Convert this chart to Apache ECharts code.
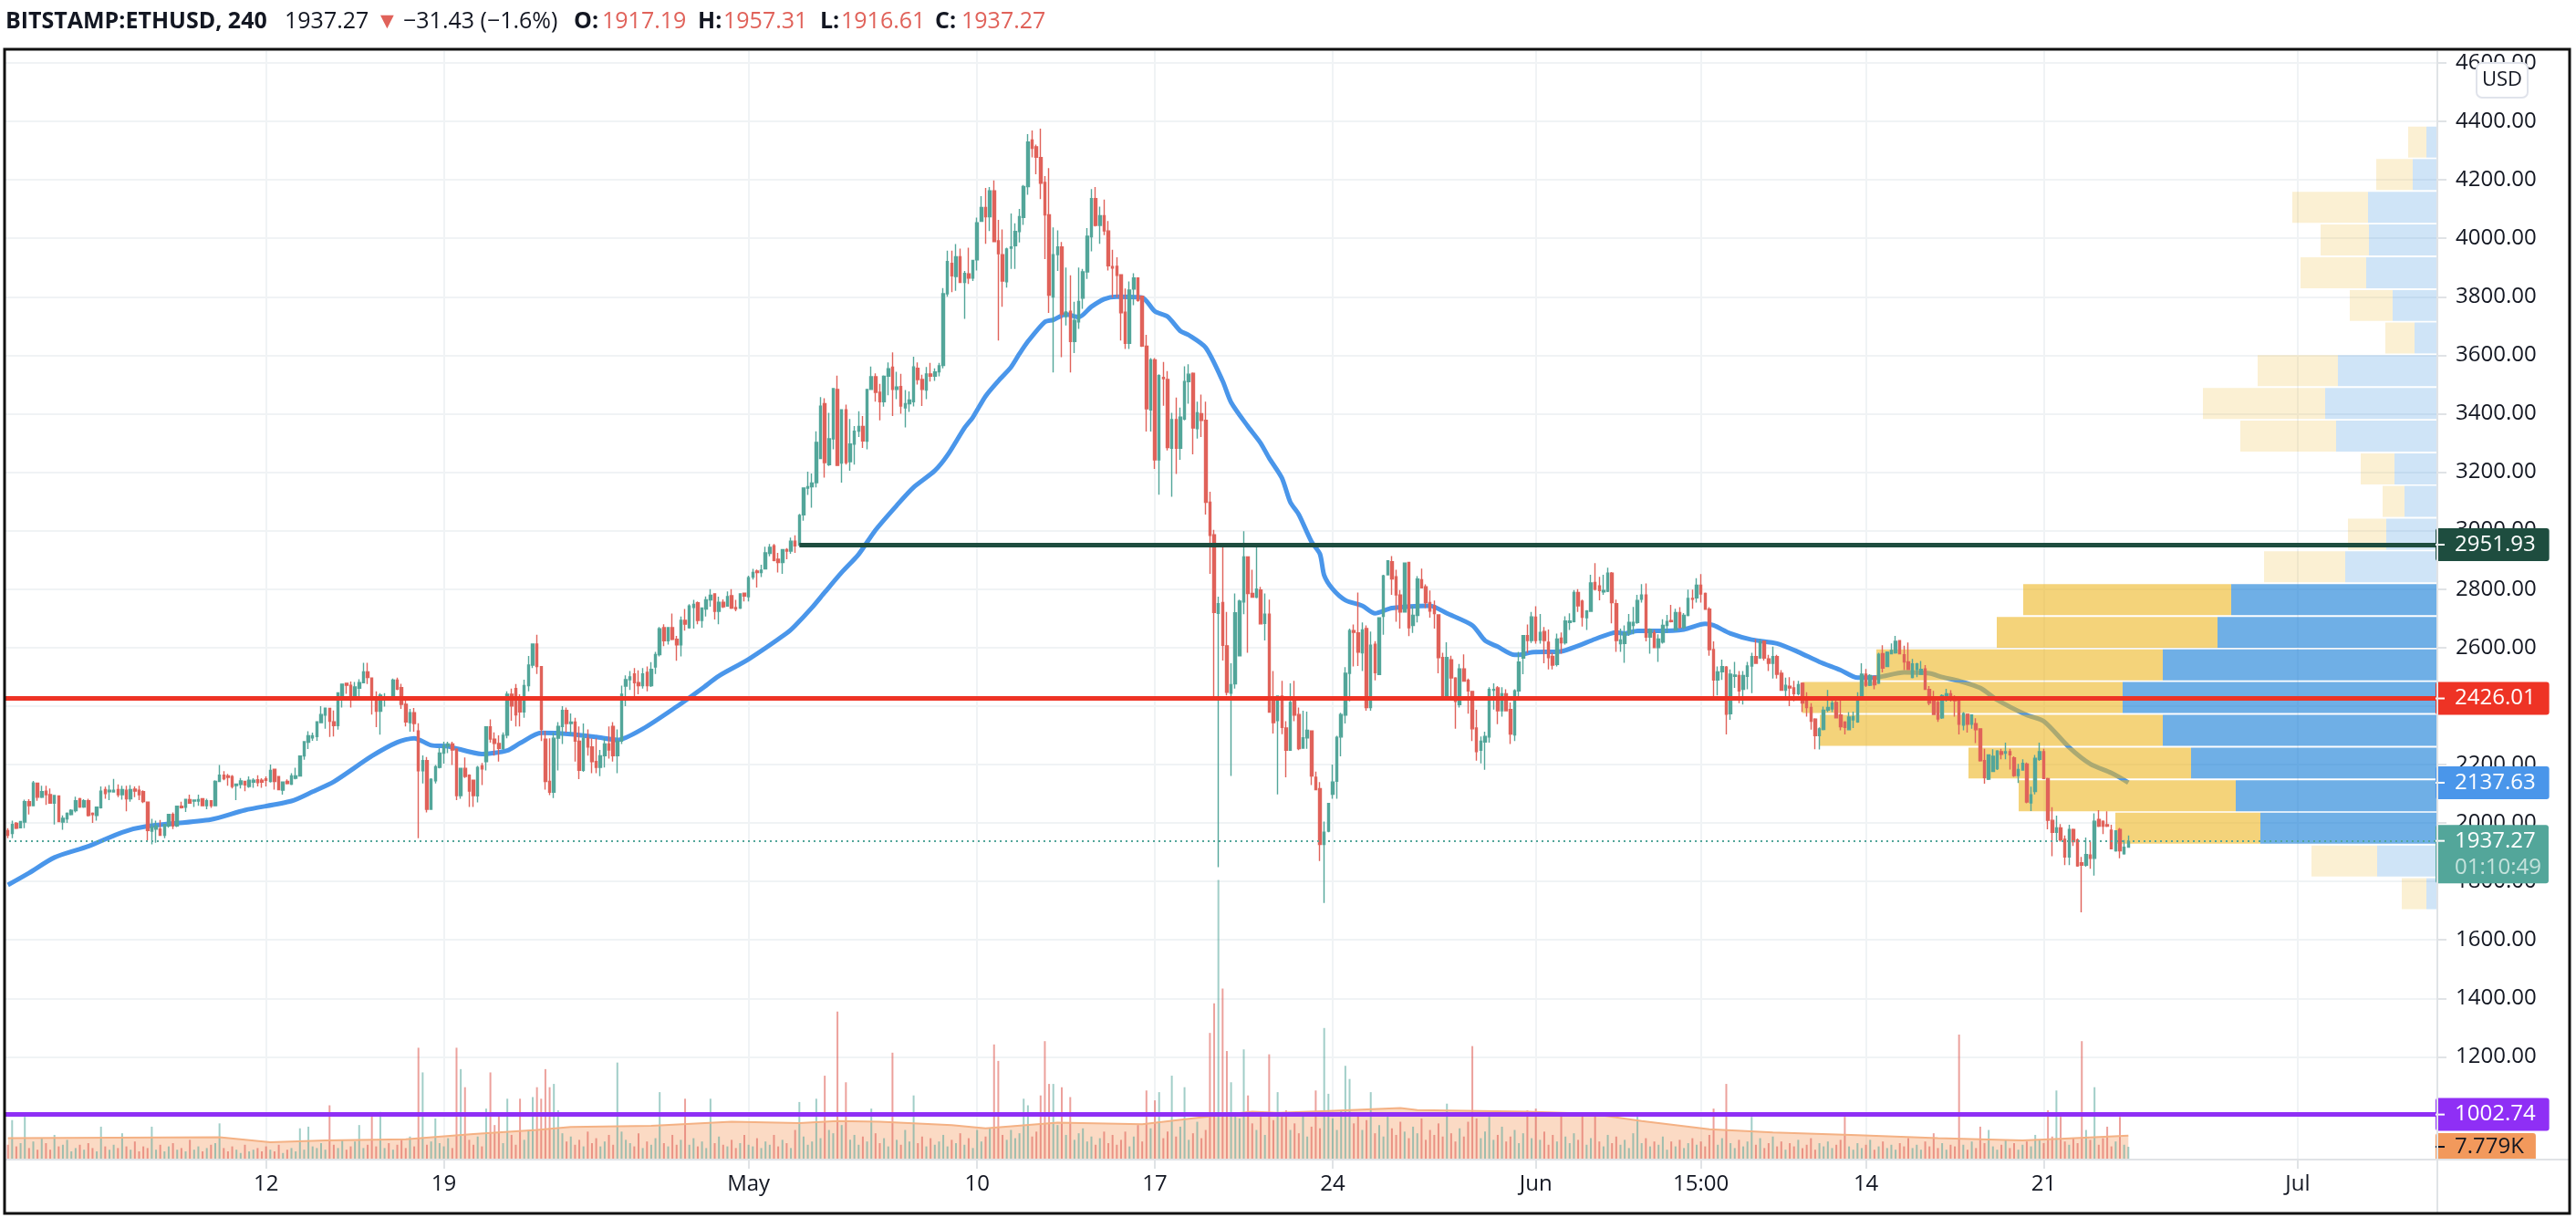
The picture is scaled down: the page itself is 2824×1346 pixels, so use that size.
<!DOCTYPE html>
<html>
<head>
<meta charset="utf-8">
<title>BITSTAMP:ETHUSD, 240</title>
<script src="https://cdn.jsdelivr.net/npm/echarts@6/dist/echarts.min.js"></script>
<style>
html, body { margin: 0; padding: 0; background: #fff; }
#chart { width: 2824px; height: 1346px; }
</style>
</head>
<body>
<div id="chart"></div>
<script>
// [open, close, low, high], 4h candles
var candles = [
[1974,1958,1948,1982],[1964,1995,1948,2008],[1999,1982,1979,2003],[1984,2005,1982,2007],[2003,2073,1982,2080],
[2073,2059,2029,2081],[2059,2137,2059,2144],[2136,2088,2076,2138],[2088,2107,2085,2127],[2109,2097,2062,2127],
[2097,2068,2066,2118],[2068,2094,1995,2096],[2092,2005,2003,2093],[2003,2016,1977,2026],[2014,2033,2000,2036],
[2029,2043,2026,2047],[2042,2076,2036,2090],[2083,2055,2052,2086],[2055,2076,2052,2081],[2076,2026,2022,2083],
[2033,2029,2000,2036],[2026,2054,2008,2055],[2052,2109,2049,2125],[2114,2101,2083,2124],[2107,2112,2078,2130],
[2106,2112,2104,2151],[2114,2097,2088,2132],[2097,2114,2080,2127],[2112,2083,2040,2127],[2083,2114,2073,2130],
[2116,2109,2088,2125],[2112,2097,2078,2127],[2107,2073,2068,2112],[2071,1974,1941,2073],[1972,1986,1927,2014],
[1979,1990,1932,2008],[1979,1958,1956,2010],[1958,1995,1948,1997],[1990,2029,1984,2031],[2029,1990,1979,2036],
[1990,2057,1986,2059],[2057,2052,2049,2073],[2054,2081,2038,2083],[2080,2068,2066,2097],[2075,2078,2055,2080],
[2075,2080,2059,2097],[2083,2059,2057,2085],[2059,2076,2047,2083],[2076,2059,2052,2078],[2059,2142,2057,2146],
[2142,2163,2140,2198],[2163,2151,2146,2177],[2161,2156,2127,2168],[2159,2125,2118,2164],[2128,2133,2078,2135],
[2132,2144,2118,2154],[2142,2130,2109,2144],[2125,2146,2120,2159],[2140,2146,2120,2153],[2148,2138,2125,2163],
[2146,2140,2120,2153],[2151,2146,2125,2159],[2142,2180,2138,2200],[2184,2142,2114,2186],[2159,2114,2112,2161],
[2112,2140,2097,2142],[2142,2135,2132,2149],[2133,2161,2130,2170],[2153,2161,2149,2189],[2161,2229,2161,2231],
[2229,2278,2216,2279],[2276,2298,2253,2314],[2291,2298,2281,2309],[2296,2346,2281,2348],[2343,2371,2341,2400],
[2369,2393,2322,2395],[2392,2348,2294,2394],[2346,2333,2296,2385],[2333,2445,2319,2447],[2421,2475,2395,2477],
[2478,2471,2442,2480],[2471,2421,2395,2484],[2423,2465,2421,2482],[2461,2480,2432,2492],[2480,2517,2478,2548],
[2517,2498,2475,2548],[2496,2432,2371,2498],[2430,2382,2328,2450],[2382,2437,2302,2444],[2424,2427,2398,2444],
[2432,2421,2419,2434],[2424,2489,2423,2494],[2489,2458,2454,2497],[2463,2406,2390,2476],[2406,2346,2330,2421],
[2343,2377,2312,2390],[2377,2340,2312,2393],[2315,2179,1948,2341],[2179,2213,2135,2231],[2213,2047,2036,2226],
[2047,2149,2047,2153],[2144,2192,2135,2198],[2190,2239,2187,2257],[2239,2265,2203,2278],[2263,2270,2239,2278],
[2270,2250,2198,2278],[2252,2094,2078,2255],[2094,2187,2083,2189],[2187,2159,2154,2224],[2163,2109,2055,2166],
[2146,2094,2055,2146],[2093,2190,2070,2195],[2195,2185,2130,2205],[2210,2329,2180,2330],[2329,2287,2275,2354],
[2287,2272,2230,2310],[2272,2255,2210,2300],[2255,2300,2250,2310],[2300,2440,2290,2450],[2440,2400,2350,2460],
[2460,2370,2330,2475],[2420,2380,2330,2440],[2380,2470,2360,2490],[2470,2540,2450,2571],[2540,2612,2530,2612],
[2612,2535,2510,2644],[2535,2320,2280,2537],[2287,2142,2114,2315],[2142,2105,2095,2290],[2105,2290,2085,2310],
[2290,2330,2180,2345],[2330,2385,2270,2400],[2385,2340,2310,2395],[2340,2345,2300,2375],[2345,2280,2210,2360],
[2280,2180,2150,2330],[2180,2290,2175,2340],[2290,2260,2230,2320],[2260,2210,2170,2290],[2210,2190,2170,2290],
[2190,2230,2160,2250],[2230,2270,2190,2290],[2270,2250,2220,2330],[2330,2230,2210,2345],[2230,2280,2170,2320],
[2280,2440,2270,2470],[2468,2490,2400,2505],[2490,2500,2455,2520],[2510,2480,2430,2530],[2480,2470,2440,2522],
[2470,2510,2460,2530],[2515,2470,2450,2535],[2470,2525,2465,2550],[2534,2576,2510,2585],[2576,2664,2570,2670],
[2668,2623,2605,2680],[2623,2668,2610,2668],[2668,2628,2625,2716],[2628,2609,2555,2640],[2609,2693,2570,2706],
[2693,2680,2658,2732],[2668,2742,2665,2748],[2737,2748,2665,2763],[2753,2693,2680,2758],[2693,2735,2668,2737],
[2732,2763,2706,2775],[2763,2779,2740,2800],[2784,2724,2696,2786],[2724,2755,2680,2774],[2755,2740,2735,2765],
[2742,2774,2740,2792],[2777,2735,2732,2800],[2737,2732,2724,2763],[2735,2784,2732,2786],[2786,2776,2758,2788],
[2774,2839,2758,2846],[2841,2857,2833,2869],[2862,2857,2805,2867],[2857,2865,2841,2883],[2869,2924,2869,2945],
[2922,2943,2912,2954],[2948,2898,2895,2954],[2902,2891,2857,2924],[2891,2935,2852,2935],[2935,2930,2902,2940],
[2930,2964,2921,2976],[2964,2948,2924,2984],[2950,3052,2950,3057],[3054,3146,3034,3148],[3145,3150,3122,3202],
[3150,3163,3078,3195],[3164,3302,3148,3340],[3247,3426,3247,3457],[3434,3233,3181,3453],[3226,3314,3221,3403],
[3314,3486,3278,3488],[3483,3223,3221,3530],[3231,3413,3164,3413],[3413,3233,3226,3431],[3236,3296,3205,3382],
[3296,3340,3226,3358],[3340,3356,3320,3408],[3356,3307,3283,3392],[3306,3483,3278,3483],[3483,3526,3481,3561],
[3526,3473,3441,3538],[3473,3441,3377,3502],[3441,3528,3424,3531],[3528,3554,3463,3575],[3559,3483,3392,3610],
[3483,3491,3450,3543],[3493,3426,3400,3536],[3420,3434,3353,3481],[3434,3447,3406,3476],[3441,3560,3425,3595],
[3555,3517,3500,3575],[3517,3483,3426,3533],[3481,3536,3450,3560],[3536,3528,3510,3574],[3528,3543,3512,3555],
[3543,3564,3528,3574],[3565,3810,3555,3830],[3810,3920,3800,3958],[3914,3872,3816,3958],[3869,3937,3820,3980],
[3937,3849,3847,3965],[3849,3880,3724,3888],[3878,3864,3844,3968],[3864,3924,3854,3926],[3926,4053,3890,4071],
[4058,4105,4056,4144],[4105,4074,3981,4172],[4074,4162,4025,4175],[4162,3989,3987,4198],[3991,3947,3650,4063],
[3944,3854,3766,4030],[3851,3963,3831,3968],[3966,3970,3895,4085],[3975,4023,3895,4051],[4023,4074,3986,4100],
[4071,4177,4046,4182],[4177,4329,4149,4356],[4336,4308,4277,4369],[4313,4277,4219,4320],[4276,4188,4134,4375],
[4191,4080,3929,4213],[4080,3805,3745,4240],[3799,3944,3541,4037],[3944,3970,3888,4027],[3970,3740,3593,3987],
[3732,3748,3702,3900],[3750,3647,3541,3873],[3647,3719,3607,3783],[3714,3784,3690,3900],[3795,3885,3759,3895],
[3885,4007,3861,4035],[4005,4136,3955,4168],[4136,4044,4040,4175],[4044,4077,3981,4108],[4077,4025,4011,4132],
[4025,3906,3890,4059],[3903,3898,3797,3961],[3904,3873,3797,3935],[3875,3745,3650,3875],[3747,3641,3621,3828],
[3641,3823,3621,3852],[3826,3864,3771,3880],[3864,3787,3783,3866],[3802,3631,3628,3804],[3631,3417,3339,3670],
[3413,3584,3339,3590],[3584,3242,3211,3590],[3242,3530,3123,3535],[3524,3520,3427,3577],[3517,3284,3274,3546],
[3282,3380,3116,3403],[3380,3282,3194,3455],[3282,3388,3242,3421],[3382,3510,3377,3562],[3510,3535,3434,3569],
[3538,3351,3261,3541],[3349,3403,3315,3441],[3400,3377,3320,3465],[3377,3097,3055,3441],[3097,2984,2852,3133],
[2986,2720,2426,3003],[2717,2750,1849,2774],[2754,2608,2556,2946],[2606,2447,2436,2722],[2444,2473,2161,2546],
[2476,2719,2460,2785],[2572,2759,2572,2764],[2756,2910,2714,2998],[2910,2785,2582,2912],[2785,2772,2770,2866],
[2772,2800,2769,2946],[2797,2681,2681,2808],[2683,2714,2624,2785],[2714,2379,2379,2764],[2431,2343,2306,2520],
[2350,2434,2098,2436],[2434,2327,2304,2486],[2325,2249,2156,2348],[2249,2412,2249,2478],[2416,2369,2348,2486],
[2371,2254,2249,2395],[2256,2291,2254,2384],[2291,2317,2254,2381],[2315,2161,2130,2315],[2156,2114,2114,2176],
[2117,1927,1870,2140],[1927,1968,1726,2005],[1972,2067,1968,2067],[2098,2140,2083,2200],[2143,2293,2083,2298],
[2294,2371,2228,2377],[2369,2512,2340,2533],[2512,2658,2416,2665],[2658,2652,2535,2679],[2650,2584,2537,2788],
[2582,2660,2520,2686],[2665,2395,2384,2676],[2395,2608,2384,2655],[2611,2514,2488,2622],[2508,2702,2506,2702],
[2707,2845,2644,2849],[2849,2897,2847,2899],[2894,2835,2780,2913],[2842,2780,2688,2866],[2780,2722,2665,2797],
[2722,2889,2722,2891],[2891,2668,2639,2893],[2676,2710,2650,2743],[2710,2834,2686,2844],[2832,2804,2804,2870],
[2808,2754,2735,2816],[2754,2725,2702,2795],[2743,2716,2665,2761],[2712,2566,2512,2714],[2566,2426,2421,2582],
[2426,2566,2421,2618],[2558,2496,2431,2572],[2496,2416,2322,2499],[2405,2527,2395,2544],[2527,2485,2485,2577],
[2488,2452,2374,2494],[2450,2322,2280,2452],[2325,2244,2213,2387],[2249,2280,2204,2296],[2277,2296,2182,2312],
[2294,2457,2275,2464],[2454,2457,2388,2478],[2462,2384,2338,2468],[2384,2442,2364,2464],[2442,2384,2384,2457],
[2388,2304,2270,2412],[2301,2452,2280,2457],[2452,2550,2426,2585],[2564,2641,2509,2643],[2641,2624,2582,2679],
[2624,2705,2616,2722],[2704,2624,2613,2741],[2626,2652,2613,2715],[2655,2624,2546,2670],[2618,2566,2525,2662],
[2570,2540,2525,2582],[2542,2629,2535,2648],[2632,2616,2579,2652],[2616,2691,2610,2707],[2686,2691,2660,2717],
[2689,2788,2686,2797],[2788,2743,2722,2800],[2759,2704,2672,2764],[2702,2725,2660,2728],[2724,2821,2722,2849],
[2823,2800,2795,2889],[2811,2795,2762,2842],[2790,2795,2780,2849],[2793,2855,2790,2873],[2855,2754,2683,2858],
[2750,2624,2585,2764],[2613,2626,2585,2665],[2614,2650,2548,2676],[2650,2686,2640,2715],[2676,2686,2645,2739],
[2686,2761,2681,2780],[2765,2780,2754,2817],[2780,2636,2621,2819],[2636,2662,2579,2666],[2650,2600,2598,2660],
[2600,2629,2551,2645],[2619,2676,2613,2697],[2676,2689,2650,2712],[2692,2689,2686,2746],[2660,2720,2660,2733],
[2720,2669,2666,2738],[2669,2710,2664,2718],[2710,2768,2707,2798],[2768,2765,2733,2798],[2770,2813,2754,2837],
[2813,2783,2754,2851],[2785,2731,2731,2788],[2731,2593,2572,2738],[2593,2489,2429,2621],[2489,2517,2436,2535],
[2517,2535,2489,2559],[2533,2372,2303,2537],[2374,2509,2353,2525],[2502,2506,2462,2551],[2504,2452,2410,2520],
[2457,2504,2405,2520],[2502,2537,2457,2551],[2537,2569,2444,2582],[2569,2546,2546,2629],[2565,2619,2561,2629],
[2621,2564,2556,2624],[2561,2546,2520,2575],[2546,2569,2494,2603],[2569,2509,2494,2575],[2512,2454,2452,2523],
[2454,2471,2426,2497],[2468,2462,2400,2499],[2462,2442,2416,2486],[2442,2473,2436,2486],[2478,2410,2379,2481],
[2429,2395,2364,2447],[2395,2348,2319,2410],[2355,2299,2252,2358],[2299,2322,2251,2327],[2320,2386,2317,2398],
[2386,2395,2379,2455],[2390,2410,2379,2428],[2412,2360,2358,2421],[2369,2329,2317,2426],[2345,2327,2303,2348],
[2319,2362,2317,2379],[2353,2364,2325,2381],[2346,2429,2343,2447],[2431,2509,2426,2546],[2509,2471,2465,2527],
[2471,2504,2468,2509],[2501,2473,2457,2504],[2478,2577,2475,2582],[2579,2530,2515,2608],[2535,2584,2533,2587],
[2579,2590,2577,2614],[2582,2621,2579,2640],[2624,2579,2577,2625],[2575,2551,2523,2606],[2551,2525,2523,2617],
[2498,2544,2495,2561],[2525,2544,2499,2548],[2509,2525,2507,2554],[2527,2457,2455,2540],[2457,2410,2403,2468],
[2426,2371,2369,2452],[2412,2356,2346,2421],[2360,2436,2356,2440],[2434,2442,2415,2459],[2442,2421,2415,2454],
[2421,2418,2364,2436],[2419,2338,2303,2423],[2335,2374,2317,2379],[2372,2338,2309,2374],[2338,2369,2322,2369],
[2340,2319,2273,2358],[2322,2213,2210,2322],[2213,2155,2134,2254],[2150,2233,2147,2235],[2176,2228,2176,2252],
[2186,2246,2181,2249],[2244,2235,2218,2254],[2239,2244,2218,2275],[2244,2233,2183,2254],[2223,2162,2158,2228],
[2162,2183,2137,2202],[2181,2204,2179,2218],[2202,2072,2067,2207],[2069,2096,2041,2124],[2108,2221,2098,2233],
[2218,2244,2212,2275],[2244,2152,2150,2254],[2152,2009,1978,2155],[2009,1968,1886,2054],[1968,1983,1936,2025],
[1983,1942,1936,1996],[1944,1884,1856,1957],[1884,1978,1856,1994],[1978,1936,1921,1981],[1942,1853,1850,1947],
[1864,1856,1694,1884],[1856,1892,1850,1950],[1890,1879,1843,1936],[1879,2006,1820,2033],[2012,1989,1986,2044],
[2006,1989,1962,2009],[1994,1989,1986,2040],[1975,1912,1910,1994],[1905,1973,1902,1975],[1978,1905,1879,1983],
[1895,1917,1892,1942],[1917.19,1937.27,1916.61,1957.31]
];

// volume per candle, in thousands
var volumes = [
9,24,8,10,26,7,11,6,13,10, 6,15,8,9,12,5,7,9,6,10, 7,5,20,8,6,9,7,16,8,6, 11,5,8,7,20,6,9,5,8,10,
6,7,5,12,6,8,5,7,9,10, 22,7,5,8,6,4,9,5,6,7, 5,8,6,5,9,4,6,7,5,19, 6,20,8,7,10,6,33,9,7,12,
6,8,11,21,7,9,27,8,29,7, 10,6,9,12,7,14,8,68,53,9, 11,25,10,8,13,7,68,55,44,12, 9,14,8,31,53,21,28,10,37,15,
9,37,12,18,38,44,37,55,44,46, 30,16,11,14,9,12,8,17,10,13, 8,11,15,9,59,17,12,10,8,16, 7,11,9,13,41,10,8,15,9,12,
37,9,13,8,11,7,37,10,14,9, 8,12,7,10,15,9,8,13,7,11, 9,15,8,12,10,7,18,35,14,9, 11,37,13,51,18,16,90,21,47,12,
15,9,14,11,31,16,10,13,8,65, 12,9,18,11,39,10,14,8,13,9, 11,15,8,12,10,16,9,13,7,18, 11,14,19,70,60,15,12,18,13,16,
37,33,14,17,39,72,46,46,21,44, 15,38,12,16,19,11,14,9,13,17, 10,15,9,12,17,8,14,21,11,42, 19,36,41,13,17,51,14,20,44,12,
16,23,13,18,77,95,170,104,66,47, 28,25,67,39,22,18,26,15,64,24, 41,26,30,18,22,16,28,14,20,42, 19,80,40,25,18,30,57,49,22,27,
18,24,41,16,21,14,26,19,15,23, 17,13,20,16,25,12,18,15,22,14, 34,16,11,19,14,23,69,25,13,17, 26,12,15,20,11,14,18,10,16,30,
13,31,12,17,9,15,11,28,14,10, 16,12,27,9,13,28,11,8,15,10, 14,9,12,7,16,26,10,13,8,11, 9,14,6,11,8,12,7,10,13,9,
11,8,15,31,9,13,46,10,7,12, 8,11,26,9,13,7,10,14,8,11, 6,10,8,12,7,9,13,6,10,8, 11,7,9,12,26,8,6,10,7,9,
12,6,8,11,7,9,6,10,8,13, 7,9,6,11,8,16,7,10,6,9, 8,76,9,6,11,7,20,10,18,8, 6,9,12,7,10,6,9,11,8,15,
12,10,30,14,42,26,11,9,13,10, 72,18,12,44,9,13,20,8,11,26, 9,7.8
];

// moving average of price: [candle slot, price]
var priceMa = [
[1,1788],[6,1829],[12,1882],[20,1920],[28,1968],[34,1989],[49,2012],[57,2044],[68,2075],[73,2107],[78,2141],[87,2229],
[93,2276],[97,2290],[101,2266],[105,2262],[113,2236],[119,2248],[122,2273],[127,2308],[134,2304],[140,2294],[145,2284],
[151,2322],[159,2398],[165,2460],[169,2503],[176,2560],[185,2649],[187,2675],[191,2737],[194,2789],[198,2857],[202,2919],
[206,3002],[211,3086],[215,3148],[220,3205],[223,3258],[227,3351],[229,3388],[232,3460],[235,3512],[238,3559],[240,3605],
[242,3647],[246,3714],[248,3721],[251,3740],[254,3730],[257,3766],[260,3792],[263,3800],[269,3797],[272,3750],[275,3732],
[278,3683],[280,3669],[284,3626],[288,3512],[290,3439],[294,3356],[297,3299],[299,3248],[302,3180],[304,3097],[306,3055],
[309,2962],[311,2920],[312,2847],[314,2800],[317,2762],[321,2743],[324,2717],[328,2735],[337,2743],[341,2717],[347,2676],
[350,2624],[353,2603],[357,2575],[359,2577],[361,2584],[368,2587],[372,2606],[376,2629],[381,2652],[383,2648],[386,2657],
[391,2657],[397,2662],[402,2681],[404,2676],[408,2648],[413,2627],[419,2614],[424,2585],[429,2551],[434,2523],[438,2497],
[443,2499],[449,2515],[455,2512],[458,2499],[462,2486],[467,2462],[471,2421],[478,2369],[482,2348],[488,2259],[493,2202],
[498,2171],[502,2137.63]
];

// moving average of volume: [candle slot, thousands]
var volumeMa = [
[1,13.1],[51,13.6],[63,10.6],[76,11.6],[95,12.4],[111,15.6],[126,18],[134,19.8],[153,20.5],[172,23],[188,22.2],[197,23.5],
[207,23],[224,21],[232,19],[249,22.5],[269,21.5],[288,27.2],[295,29.1],[301,28.4],[313,29.6],[330,31.4],[334,30.1],[360,29.1],
[375,27.9],[387,23.5],[403,18.5],[418,16.5],[438,14.8],[457,13.1],[477,11.6],[487,12.8],[502,14.6]
];

// volume profile, bottom row first
var vpBottom = [1705,1817,1929,2040,2152,2264,2376,2488,2599,2711,2823,2935,3047,3158,3270,3382,3494,3606,3717,3829,3941,4053,4165,4276];
var vpUp =   [12,66,194,221,270,301,345,301,241,226,101,56,36,47,111,123,109,25,49,78,75,76,27,12];
var vpDown = [27,72,159,238,244,376,351,314,242,228,89,42,24,37,105,134,88,32,47,72,53,83,40,20];
var vpValueArea = [2,3,4,5,6,7,8,9];
var vpRowSize = 106;

var xTicks = {62:'12',104:'19',176:'May',230:'10',272:'17',314:'24',362:'Jun',401:'15:00',440:'14',482:'21',542:'Jul'};
var slotCount = 576;
var categories = [];
for (var s = 0; s < slotCount; s++) { categories.push(xTicks[s] || ''); }

var headerTexts = ['BITSTAMP:ETHUSD, 240','1937.27','▼','−31.43 (−1.6%)','O:','1917.19','H:','1957.31','L:','1916.61','C:','1937.27'];
var headerX =     [6,312,412,442,629,660,765,793,899,922,1025,1054];
var headerBold =  [1,0,0,0,1,0,1,0,1,0,1,0];
var headerRed =   [0,0,1,0,0,1,0,1,0,1,0,1];

var UP = '#53a69a', DOWN = '#e0625a', INK = '#131722';
var FONT = '"Open Sans", sans-serif';
var GRID_LINE = '#f0f3f5', AXIS_LINE = '#e0e3e6';
var NO_LINE = { color: 'rgba(0,0,0,0)', width: 0 };

function isTick(i) { return xTicks[i] !== undefined; }

function tag(text, bg, fg, extra) {
    var label = {
        show: true,
        position: 'end',
        distance: 0,
        offset: [-2, 0],
        backgroundColor: bg,
        borderRadius: 3,
        padding: [0, 15, 0, 0],
        formatter: '{t|}{v|' + text + '}',
        rich: {
            t: { width: 10, height: 2, backgroundColor: fg, lineHeight: 36 },
            v: { color: fg, fontSize: 24, fontFamily: FONT, lineHeight: 36, padding: [0, 0, 0, 11] }
        }
    };
    for (var k in extra) { label[k] = extra[k]; }
    return label;
}

var lastTag = tag('1937.27', UP, '#fff', {
    offset: [-2, 14],
    padding: [3, 8, 3, 0],
    formatter: '{t|}{v|1937.27}\n{n|}{c|01:10:49}'
});
lastTag.rich.n = { width: 10, height: 2, lineHeight: 29 };
lastTag.rich.v.lineHeight = 29;
lastTag.rich.t.lineHeight = 29;
lastTag.rich.c = { color: '#c4e2dc', fontSize: 24, fontFamily: FONT, lineHeight: 29, padding: [0, 0, 0, 11] };

var levels = [
    { yAxis: 2426.01, lineStyle: { color: '#ee3325', width: 5, type: 'solid' }, label: tag('2426.01', '#ee3325', '#fff') },
    [
        { coord: [188, 2951.93], lineStyle: { color: '#1e4d3f', width: 5, type: 'solid' }, label: tag('2951.93', '#1e4d3f', '#fff') },
        { coord: [575, 2951.93] }
    ],
    { yAxis: 1002.74, lineStyle: { color: '#8f2ff5', width: 5, type: 'solid' }, label: tag('1002.74', '#8f2ff5', '#fff') },
    { yAxis: 2137.63, lineStyle: NO_LINE, label: tag('2137.63', '#4a96ea', '#fff') },
    { yAxis: 1937.27, lineStyle: { color: UP, width: 2, type: [2, 4] }, label: lastTag }
];

var graphics = [
    { type: 'line', z: 90, shape: { x1: 2672, y1: 56, x2: 2672, y2: 1330 }, style: { stroke: AXIS_LINE, lineWidth: 2 } },
    { type: 'line', z: 90, shape: { x1: 5, y1: 1271, x2: 2816, y2: 1271 }, style: { stroke: AXIS_LINE, lineWidth: 2 } },
    { type: 'rect', z: 100, shape: { x: 5, y: 54, width: 2812, height: 1276 }, style: { fill: 'none', stroke: '#111', lineWidth: 3 } },
    { type: 'rect', z: 100, shape: { x: 2715, y: 69, width: 56, height: 38, r: 6 }, style: { fill: '#fff', stroke: '#e0e3eb', lineWidth: 2 } },
    { type: 'text', z: 101, x: 2743, y: 88, style: { text: 'USD', fill: INK, font: '22px ' + FONT, textAlign: 'center', textVerticalAlign: 'middle' } }
];
headerTexts.forEach(function (text, i) {
    graphics.push({
        type: 'text', z: 100, x: headerX[i], y: 24,
        style: {
            text: text,
            fill: headerRed[i] ? DOWN : INK,
            font: (headerBold[i] ? 'bold ' : '') + '25px ' + FONT,
            textVerticalAlign: 'middle'
        }
    });
});

var vpRows = vpBottom.map(function (low, k) {
    return [vpUp[k], vpUp[k] + vpDown[k], low, low + vpRowSize, vpValueArea.indexOf(k) >= 0 ? 1 : 0];
});

function renderProfile(params, api) {
    var split = api.value(0), total = api.value(1), low = api.value(2), high = api.value(3), strong = api.value(4);
    var right = api.coord([0, low]), mid = api.coord([split, high]), left = api.coord([total, high]);
    return {
        type: 'group',
        children: [
            {
                type: 'rect',
                shape: { x: mid[0], y: mid[1], width: right[0] - mid[0], height: right[1] - mid[1] },
                style: { fill: strong ? 'rgba(15,122,213,0.6)' : 'rgba(15,122,213,0.2)' }
            },
            {
                type: 'rect',
                shape: { x: left[0], y: left[1], width: mid[0] - left[0], height: right[1] - left[1] },
                style: { fill: strong ? 'rgba(237,182,33,0.6)' : 'rgba(237,182,33,0.2)' }
            }
        ]
    };
}

var myChart = echarts.init(document.getElementById('chart'));

var option = {
    animation: false,
    backgroundColor: '#fff',
    textStyle: { fontFamily: FONT },
    graphic: graphics,
    grid: [
        { left: 4, width: 2668, top: 56, height: 1215 },
        { left: 4, width: 2668, top: 68.9, height: 1153.6 }
    ],
    xAxis: [
        {
            type: 'category', gridIndex: 0, data: categories, boundaryGap: false,
            axisLine: { show: false },
            axisTick: { interval: isTick, length: 10, lineStyle: { color: AXIS_LINE, width: 2 } },
            axisLabel: { interval: isTick, color: INK, fontSize: 24, fontFamily: FONT, margin: 15 },
            splitLine: { show: true, interval: isTick, lineStyle: { color: GRID_LINE, width: 2 } }
        },
        { type: 'category', gridIndex: 1, data: categories, boundaryGap: false, show: false },
        { type: 'value', gridIndex: 1, inverse: true, min: 0, max: 2668, show: false }
    ],
    yAxis: [
        { type: 'value', gridIndex: 0, min: 0, max: 674, show: false, splitLine: { show: false } },
        {
            type: 'value', gridIndex: 1, position: 'right', min: 1000, max: 4600, interval: 200,
            axisLine: { show: false },
            axisTick: { show: true, length: 10, lineStyle: { color: AXIS_LINE, width: 2 } },
            axisLabel: {
                color: INK, fontSize: 24, fontFamily: FONT, margin: 20,
                formatter: function (v) { return v.toFixed(2); }
            },
            splitLine: { show: true, lineStyle: { color: GRID_LINE, width: 2 } }
        }
    ],
    series: [
        {
            name: 'Volume', type: 'bar', xAxisIndex: 0, yAxisIndex: 0, z: 1, barWidth: 2,
            data: [0].concat(volumes).map(function (v, i) {
                var c = candles[i - 1];
                return { value: v, itemStyle: { color: c && c[1] >= c[0] ? 'rgba(83,166,154,0.55)' : 'rgba(224,98,90,0.6)' } };
            }),
            markLine: {
                silent: true, symbol: ['none', 'none'], z: 6,
                data: [{
                    yAxis: 7.779,
                    lineStyle: NO_LINE,
                    label: (function () {
                        var l = tag('7.779K', '#f2995c', '#131722');
                        l.padding = [0, 13, 0, 0];
                        l.borderRadius = [3, 3, 0, 0];
                        l.rich.t.lineHeight = 30;
                        l.rich.v.lineHeight = 30;
                        return l;
                    })()
                }]
            }
        },
        {
            name: 'Volume MA', type: 'line', xAxisIndex: 0, yAxisIndex: 0, z: 1, symbol: 'none',
            data: volumeMa,
            lineStyle: { color: '#f4b184', width: 2 },
            areaStyle: { color: 'rgba(242,140,70,0.45)', origin: 'start' }
        },
        {
            name: 'MA', type: 'line', xAxisIndex: 1, yAxisIndex: 1, z: 2, symbol: 'none', smooth: 0.25,
            data: priceMa,
            lineStyle: { color: '#4a96ea', width: 5 }
        },
        {
            name: 'Volume profile', type: 'custom', xAxisIndex: 2, yAxisIndex: 1, z: 3,
            renderItem: renderProfile,
            encode: { x: [0, 1], y: [2, 3] },
            data: vpRows
        },
        {
            name: 'ETHUSD', type: 'candlestick', xAxisIndex: 1, yAxisIndex: 1, z: 4,
            barWidth: 3,
            data: [['-', '-', '-', '-']].concat(candles),
            itemStyle: { color: UP, color0: DOWN, borderColor: UP, borderColor0: DOWN, borderWidth: 1.4 },
            markLine: { silent: true, symbol: ['none', 'none'], z: 6, data: levels }
        }
    ]
};

myChart.setOption(option);
</script>
</body>
</html>
